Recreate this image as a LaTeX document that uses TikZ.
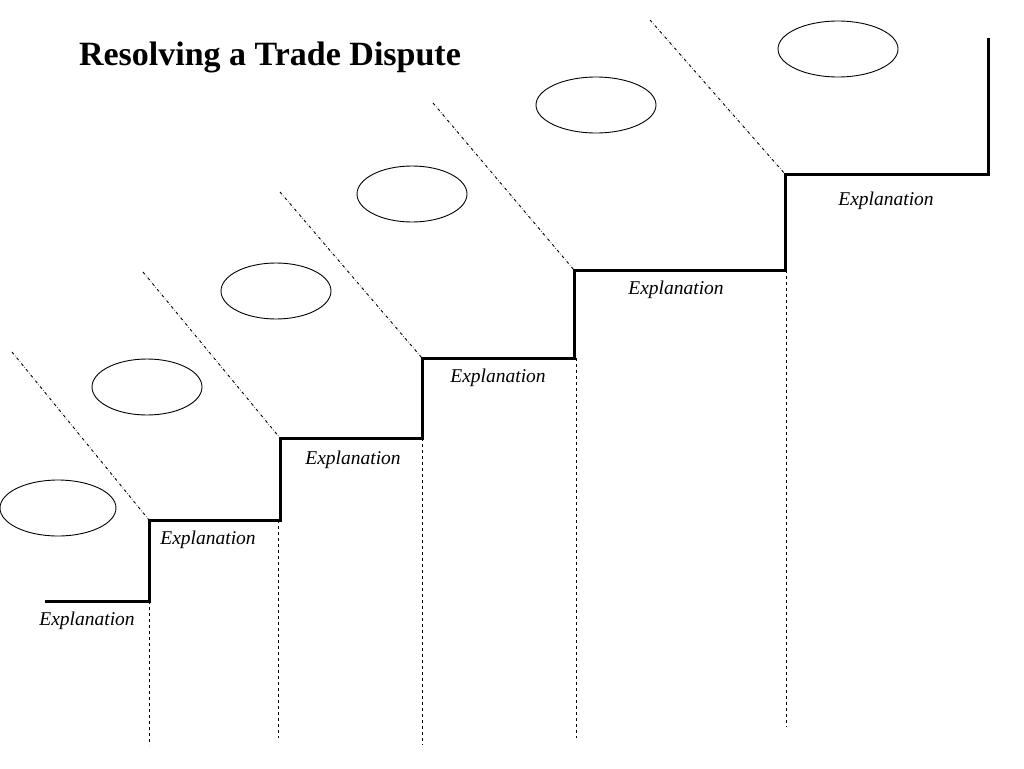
\documentclass[tikz,border=0pt]{standalone}
\usepackage{fontspec}
\setmainfont{Liberation Serif}
\usetikzlibrary{shapes.geometric}
\begin{document}
\begin{tikzpicture}[x=1pt,y=-1pt,
  stair/.style={line width=3pt},
  diag/.style={dash dot,line width=0.9pt},
  vert/.style={dashed,line width=0.9pt},
  oval/.style={draw,ellipse,line width=0.9pt},
  expl/.style={font=\fontsize{19.5}{22}\selectfont\itshape}]
\useasboundingbox (0,0) rectangle (1024,768);
\node[font=\fontsize{34}{38}\selectfont\bfseries] (title) at (270,57) {Resolving a Trade Dispute};
\coordinate (s0) at (45,601);
\coordinate (c1) at (149,601); \coordinate (t1) at (149,520);
\coordinate (c2) at (280,520); \coordinate (t2) at (280,438);
\coordinate (c3) at (422,438); \coordinate (t3) at (422,358);
\coordinate (c4) at (574,358); \coordinate (t4) at (574,270);
\coordinate (c5) at (785,270); \coordinate (t5) at (785,174);
\coordinate (c6) at (988,174); \coordinate (t6) at (988,38);
\draw[stair] (s0)--(c1)--(t1)--(c2)--(t2)--(c3)--(t3)--(c4)--(t4)--(c5)--(t5)--(c6)--(t6);
\coordinate (d1) at (12,352); \coordinate (d2) at (143,272); \coordinate (d3) at (280,192);
\coordinate (d4) at (433,103); \coordinate (d5) at (650,20);
\draw[diag] (d1)--(t1); \draw[diag] (d2)--(t2); \draw[diag] (d3)--(t3);
\draw[diag] (d4)--(t4); \draw[diag] (d5)--(t5);
\coordinate (v1) at (149,745); \coordinate (v2a) at (278,520); \coordinate (v2) at (278,738);
\coordinate (v3) at (422,745); \coordinate (v4a) at (576,358); \coordinate (v4) at (576,738);
\coordinate (v5a) at (786,270); \coordinate (v5) at (786,727);
\draw[vert] (c1)--(v1); \draw[vert] (v2a)--(v2); \draw[vert] (c3)--(v3);
\draw[vert] (v4a)--(v4); \draw[vert] (v5a)--(v5);
\node[oval,inner sep=0pt,minimum width=116pt,minimum height=56pt] (e1) at (58,508) {};
\node[oval,inner sep=0pt,minimum width=110pt,minimum height=56pt] (e2) at (147,387) {};
\node[oval,inner sep=0pt,minimum width=110pt,minimum height=56pt] (e3) at (276,291) {};
\node[oval,inner sep=0pt,minimum width=110pt,minimum height=56pt] (e4) at (412,194) {};
\node[oval,inner sep=0pt,minimum width=120pt,minimum height=56pt] (e5) at (596,105) {};
\node[oval,inner sep=0pt,minimum width=120pt,minimum height=56pt] (e6) at (838,49) {};
\node[expl] (x1) at (87,621) {Explanation};
\node[expl] (x2) at (208,540) {Explanation};
\node[expl] (x3) at (353,460) {Explanation};
\node[expl] (x4) at (498,378) {Explanation};
\node[expl] (x5) at (676,290) {Explanation};
\node[expl] (x6) at (886,201) {Explanation};
\end{tikzpicture}
\end{document}
